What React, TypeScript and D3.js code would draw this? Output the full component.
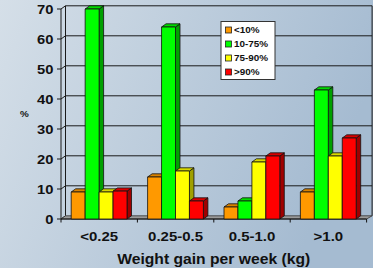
import React from "react";
import * as d3 from "d3";

const categories = ["<0.25", "0.25-0.5", "0.5-1.0", ">1.0"];
const seriesNames = ["<10%", "10-75%", "75-90%", ">90%"];
const seriesColors = ["#ff9900", "#00ff00", "#ffff00", "#ff0000"];
const v_lt10 = [9, 14, 4, 9];
const v_10_75 = [70, 64, 6, 43];
const v_75_90 = [9, 16, 19, 21];
const v_gt90 = [9.3, 6, 21, 27];
const seriesValues = [v_lt10, v_10_75, v_75_90, v_gt90];
const yTicks = [0, 10, 20, 30, 40, 50, 60, 70];

const W = 373, H = 268;
const X0 = 61, X1 = 366.6, DX = 4.5, DY = -3.2;
const FONT = "'Liberation Sans', Arial, sans-serif";

export default function App() {
  const y = d3.scaleLinear().domain([0, 70]).range([219, 9]);
  const x = d3.scaleBand<string>().domain(categories).range([X0, X1]);
  const inner = d3.scaleBand<number>().domain([0, 1, 2, 3]).range([10.2, 66]);
  const bw = inner.bandwidth();
  const y0 = y(0);
  const top = y(70) + DY;
  const right = X1 + DX + 1;

  const bars: React.ReactNode[] = [];
  categories.forEach((c, i) => {
    seriesValues.forEach((vals, j) => {
      const bx = (x(c) as number) + (inner(j) as number);
      const by = y(vals[i]);
      const col = d3.color(seriesColors[j])!;
      const topCol = col.darker(0.45).formatHex();
      const sideCol = col.darker(1.3).formatHex();
      bars.push(
        <g key={`${i}-${j}`} stroke="#111" strokeWidth={0.8} strokeLinejoin="round">
          <polygon points={`${bx + bw},${by} ${bx + bw + DX},${by + DY} ${bx + bw + DX},${y0 + DY} ${bx + bw},${y0}`} fill={sideCol} />
          <polygon points={`${bx},${by} ${bx + DX},${by + DY} ${bx + bw + DX},${by + DY} ${bx + bw},${by}`} fill={topCol} />
          <rect x={bx} y={by} width={bw} height={y0 - by} fill={seriesColors[j]} />
        </g>
      );
    });
  });

  return (
    <svg width={W} height={H} style={{ position: "absolute", left: 0, top: 0, display: "block" }} fontFamily={FONT}>
      <defs>
        <linearGradient id="bg" x1="0" y1="0" x2="1" y2="0.3">
          <stop offset="0" stopColor="#d5dfe8" />
          <stop offset="1" stopColor="#a5bbd1" />
        </linearGradient>
      </defs>
      <rect x={0} y={0} width={W} height={H} fill="url(#bg)" />
      {/* back wall gridlines */}
      {yTicks.map((v) => (
        <g key={v} stroke="#1a1a1a" strokeWidth={1}>
          {v > 0 && <line x1={X0 + DX} x2={right} y1={y(v) + DY} y2={y(v) + DY} />}
          <line x1={X0} x2={X0 + DX} y1={y(v)} y2={y(v) + DY} />
          <line x1={X0 - 4} x2={X0} y1={y(v)} y2={y(v)} />
        </g>
      ))}
      <line x1={X0 + DX} x2={X0 + DX} y1={top} y2={y0 + DY} stroke="#1a1a1a" />
      <line x1={right} x2={right} y1={top} y2={y0 + DY} stroke="#1a1a1a" />
      <line x1={X0} x2={X0} y1={y(70)} y2={y0} stroke="#1a1a1a" />
      {/* floor */}
      <polygon points={`${X0},${y0} ${X0 + DX},${y0 + DY} ${right},${y0 + DY} ${X1},${y0}`} fill="#9a9a9a" stroke="#333" strokeWidth={0.8} />
      <line x1={X0} x2={X1} y1={y0} y2={y0} stroke="#111" strokeWidth={1} />
      {[0, 1, 2, 3, 4].map((k) => (
        <line key={k} x1={X0 + k * x.bandwidth()} x2={X0 + k * x.bandwidth()} y1={y0} y2={y0 + 3.5} stroke="#111" />
      ))}
      {bars}
      {/* y tick labels */}
      {yTicks.map((v) => (
        <text key={v} transform={`translate(53.5,${y(v) + 4.6}) scale(1.18,1)`} textAnchor="end" fontSize={12.5} fontWeight="bold" fill="#111">
          {v}
        </text>
      ))}
      <text transform={`translate(24.5,117) scale(1.1,1)`} textAnchor="middle" fontSize={9} fontWeight="bold" fill="#111">%</text>
      {/* x labels */}
      {categories.map((c) => (
        <text key={c} transform={`translate(${(x(c) as number) + x.bandwidth() / 2},240.5) scale(1.2,1)`} textAnchor="middle" fontSize={12.5} fontWeight="bold" fill="#111">
          {c}
        </text>
      ))}
      <text transform={`translate(213.7,264) scale(1.12,1)`} textAnchor="middle" fontSize={14} fontWeight="bold" fill="#111">
        Weight gain per week (kg)
      </text>
      {/* legend */}
      <rect x={221} y={21.5} width={54} height={58} fill="#ffffff" stroke="#333" strokeWidth={1} />
      {seriesNames.map((s, j) => (
        <g key={s}>
          <rect x={225.5} y={27 + j * 14} width={6} height={6} fill={seriesColors[j]} stroke="#222" strokeWidth={0.8} />
          <text transform={`translate(234,${33.3 + j * 14}) scale(1.1,1)`} fontSize={9} fontWeight="bold" fill="#111">
            {s}
          </text>
        </g>
      ))}
    </svg>
  );
}
